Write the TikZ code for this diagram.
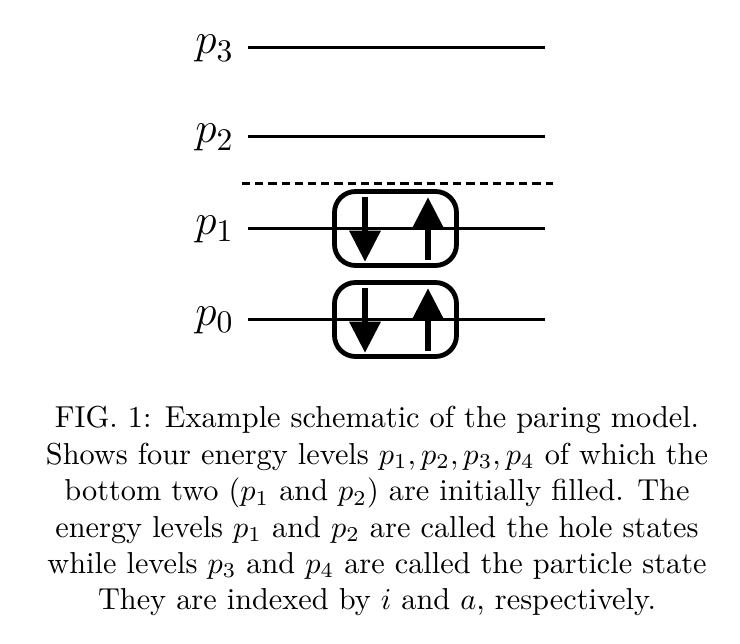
\documentclass[tikz,border=0pt]{standalone}
\usetikzlibrary{arrows.meta}
\tikzset{
  level/.style={line width=1pt},
  fermi/.style={line width=1pt, dash pattern=on 2.7pt off 1.7pt},
  pairbox/.style={line width=1.6pt, rounded corners=7pt},
  spin/.style={line width=2.3pt, -{Triangle[width=10pt,length=10.5pt]}},
  lbl/.style={anchor=base east, inner sep=0pt},
  captext/.style={anchor=north, align=center, inner sep=0pt, font=\normalsize}
}
\newcommand{\plab}[1]{{\fontsize{15}{15}\selectfont$p$}{\fontsize{10.5}{10.5}\selectfont\raisebox{-2.4pt}{#1}}}
\begin{document}
\begin{tikzpicture}[x=0.33333pt, y=-0.33333pt]
\useasboundingbox (0,0) rectangle (740,644);
% levels
\foreach \n/\y in {3/48, 2/137, 1/228, 0/319} {
  \coordinate (l\n a) at (248,\y);
  \coordinate (l\n b) at (545,\y);
  \draw[level] (l\n a) -- (l\n b);
  \node[lbl] (lab\n) at (233,\y+6) {\plab{\n}};
}
% Fermi level
\coordinate (fa) at (242,183);
\coordinate (fb) at (553,183);
\draw[fermi] (fa) -- (fb);
% pair boxes and spins
\foreach \n/\y in {1/228, 0/319} {
  \node[draw, pairbox, minimum width=122*0.33333pt, minimum height=74*0.33333pt, inner sep=0pt] (box\n) at (395.5,\y+0.5) {};
  \coordinate (dt\n) at (365,\y-31);
  \coordinate (db\n) at (365,\y+34);
  \coordinate (ub\n) at (428,\y+32);
  \coordinate (ut\n) at (428,\y-31);
  \draw[spin] (dt\n) -- (db\n);
  \draw[spin] (ub\n) -- (ut\n);
}
% caption
\node[captext, scale=1.01] (caption) at (377,406) {FIG. 1: Example schematic of the paring model.\\
Shows four energy levels $p_1,p_2,p_3,p_4$ of which the\\
bottom two ($p_1$ and $p_2$) are initially filled. The\\
energy levels $p_1$ and $p_2$ are called the hole states\\
while levels $p_3$ and $p_4$ are called the particle state\\
They are indexed by $i$ and $a$, respectively.};
\end{tikzpicture}
\end{document}
